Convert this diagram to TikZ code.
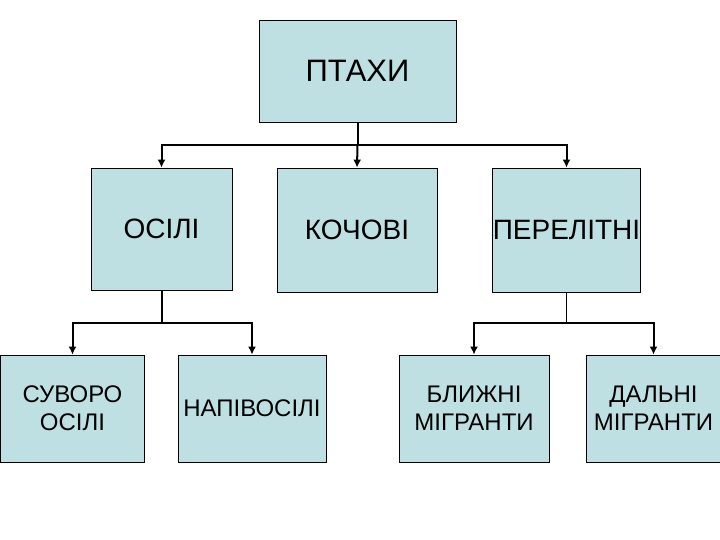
\documentclass[tikz,border=0pt]{standalone}
\usepackage{fontspec}
\setmainfont{Liberation Sans}
\usetikzlibrary{arrows.meta}
\definecolor{boxfill}{RGB}{190,224,226}
\tikzset{
	box/.style={draw=black, fill=boxfill, line width=0.8pt, align=center, inner sep=0pt},
	conn/.style={line width=2pt, -{Latex[length=8pt,width=8pt]}},
	stem/.style={line width=2pt}
}

\begin{document}
\begin{tikzpicture}[x=1pt, y=-1pt]
		%%%%% START %%%%%
		\useasboundingbox (0,0) rectangle (720,540);
		
		\node[box, minimum width=197pt, minimum height=102pt, font=\fontsize{31}{36}\selectfont] (ptakhy) at (357.5,71) {ПТАХИ};
		
		\node[box, minimum width=141pt, minimum height=122pt, font=\fontsize{28}{32}\selectfont] (osili) at (161.5,229) {ОСІЛІ};
		\node[box, minimum width=160pt, minimum height=124pt, font=\fontsize{28}{32}\selectfont] (kochovi) at (357,230) {КОЧОВІ};
		\node[box, minimum width=147pt, minimum height=124pt, font=\fontsize{28}{32}\selectfont] (pereletni) at (566.5,230) {ПЕРЕЛІТНІ};
		
		\node[box, minimum width=144pt, minimum height=107pt, font=\fontsize{24}{28}\selectfont] (suvoro) at (72.5,408.5) {СУВОРО\\ОСІЛІ};
		\node[box, minimum width=148pt, minimum height=107pt, font=\fontsize{24}{28}\selectfont] (napiv) at (252,408.5) {НАПІВОСІЛІ};
		\node[box, minimum width=150pt, minimum height=107pt, font=\fontsize{24}{28}\selectfont] (blyzhni) at (474,408.5) {БЛИЖНІ\\МІГРАНТИ};
		\node[box, minimum width=135pt, minimum height=107pt, font=\fontsize{24}{28}\selectfont] (dalni) at (653.5,408.5) {ДАЛЬНІ\\МІГРАНТИ};
		
		\coordinate (forktop) at (357.5,145);
		\coordinate (forkosili) at (161.5,323);
		\coordinate (forkpereletni) at (566.5,323);
		
		\draw[stem] (ptakhy.south) -- (forktop);
		\draw[conn] (forktop) -| (osili.north);
		\draw[conn] (forktop) -- (kochovi.north);
		\draw[conn] (forktop) -| (pereletni.north);
		
		\draw[stem] (osili.south) -- (forkosili);
		\draw[conn] (forkosili) -| (suvoro.north);
		\draw[conn] (forkosili) -| (napiv.north);
		
		\draw[line width=0.6pt] (pereletni.south) -- (forkpereletni);
		\draw[conn] (forkpereletni) -| (blyzhni.north);
		\draw[conn] (forkpereletni) -| (dalni.north);
		
		%%%%% END %%%%%
	\end{tikzpicture}
\end{document}
